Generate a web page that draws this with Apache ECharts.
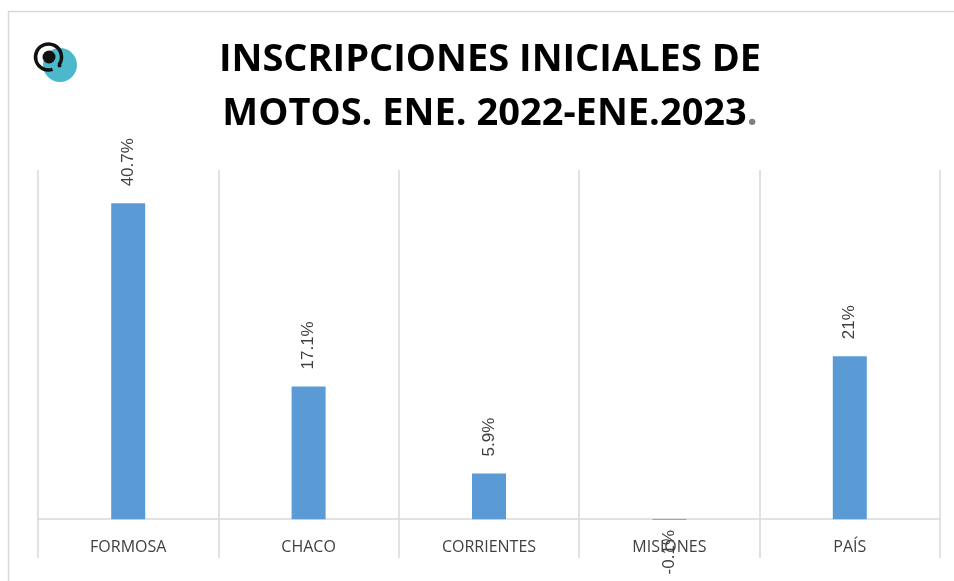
<!DOCTYPE html>
<html>
<head>
<meta charset="utf-8">
<script src="https://cdn.jsdelivr.net/npm/echarts@6/dist/echarts.min.js"></script>
<style>
  html, body { margin: 0; padding: 0; background: #fff; }
  #chart { width: 954px; height: 581px; }
</style>
</head>
<body>
<div id="chart"></div>
<script>
// provincias y variación interanual (%)
const categories = ['FORMOSA', 'CHACO', 'CORRIENTES', 'MISIONES', 'PAÍS']
const values = [40.7, 17.1, 5.9, -0.1, 21]
const valueLabels = ['40.7%', '17.1%', '5.9%', '-0.1%', '21%']

const barColor = '#5b9bd5'
const gridColor = '#d9d9d9'
const labelColor = '#404040'

const chart = echarts.init(document.getElementById('chart'))

const option = {
  backgroundColor: '#fff',
  animation: false,
  title: {
    text: '{t|INSCRIPCIONES INICIALES DE}\n{t|MOTOS. ENE. 2022-ENE.2023}{dot|.}',
    left: 485,
    top: 28,
    textAlign: 'center',
    textStyle: {
      rich: {
        t: { fontFamily: 'Open Sans', fontWeight: 'bold', fontSize: 38, color: '#000', lineHeight: 54 },
        dot: { fontFamily: 'Open Sans', fontWeight: 'bold', fontSize: 38, color: '#7f7f7f', lineHeight: 54 },
      },
    },
  },
  graphic: [
    // marco
    {
      type: 'rect',
      shape: { x: 8.5, y: 11.5, width: 960, height: 600 },
      style: { fill: 'none', stroke: '#d9d9d9', lineWidth: 1.5 },
      z: -1,
    },
    // logo
    { type: 'circle', shape: { cx: 60, cy: 65, r: 17 }, style: { fill: '#4bb8cc' } },
    {
      type: 'arc',
      shape: { cx: 48.5, cy: 57, r: 13, startAngle: Math.PI * 0.4, endAngle: Math.PI * 0.2 + Math.PI * 2 },
      style: { stroke: '#111', lineWidth: 3.5, fill: 'none' },
    },
    { type: 'circle', shape: { cx: 49, cy: 57, r: 6.5 }, style: { fill: '#111' } },
    { type: 'circle', shape: { cx: 59.5, cy: 65.5, r: 2 }, style: { fill: '#111' } },
  ],
  grid: {
    left: 38,
    right: 14,
    top: 170,
    bottom: 23,
    containLabel: false,
    outerBoundsMode: 'none',
  },
  xAxis: {
    type: 'category',
    data: categories,
    axisLine: { onZero: true, lineStyle: { color: gridColor, width: 1.5 } },
    axisTick: { show: false },
    splitLine: { show: true, lineStyle: { color: gridColor, width: 1.5 } },
    axisLabel: {
      color: labelColor,
      fontFamily: 'Open Sans',
      fontSize: 16,
      margin: -19,
      interval: 0,
    },
  },
  yAxis: {
    type: 'value',
    min: -5,
    max: 45,
    interval: 5,
    show: false,
    splitLine: { show: false },
  },
  series: [
    {
      type: 'bar',
      barWidth: 34,
      itemStyle: { color: barColor },
      data: values.map((v, i) => ({
        value: v,
        label: v < 0
          ? { position: 'bottom', align: 'right', distance: 10 }
          : { position: 'top', align: 'left', distance: 17 },
      })),
      label: {
        show: true,
        rotate: 90,
        verticalAlign: 'middle',
        color: labelColor,
        fontFamily: 'Liberation Sans',
        fontSize: 17,
        formatter: p => valueLabels[p.dataIndex],
      },
    },
  ],
}

chart.setOption(option)
</script>
</body>
</html>
